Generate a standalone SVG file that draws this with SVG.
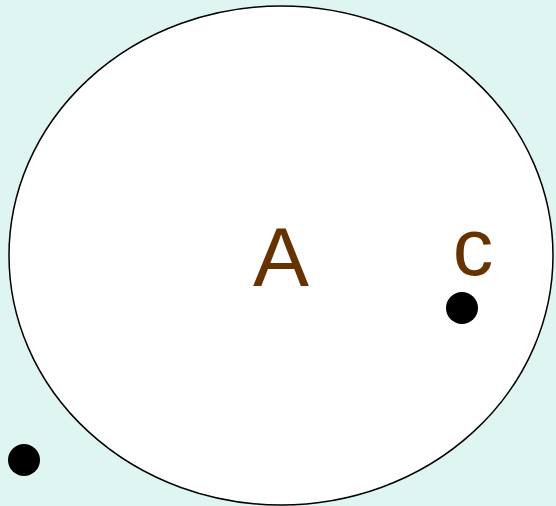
<svg xmlns="http://www.w3.org/2000/svg" width="556" height="506" viewBox="0 0 556 506">
<style>
.lbl{font-family:"Liberation Sans",Arial,sans-serif;fill:#663300;text-anchor:middle}
.dot{fill:#000}
</style>
<rect width="556" height="506" fill="#dff5f1"/>
<g id="A">
<ellipse cx="281" cy="255.5" rx="272" ry="249.5" fill="#fff" stroke="#000" stroke-width="1.5"/>
<text class="lbl" x="281" y="286" font-size="84">A</text>
</g>
<g id="c">
<text class="lbl" x="473" y="275" font-size="81">c</text>
<circle class="dot" cx="462" cy="308" r="16"/>
</g>
<g id="p">
<circle class="dot" cx="24" cy="460" r="16"/>
</g>
<g id="connectors"/>
</svg>
